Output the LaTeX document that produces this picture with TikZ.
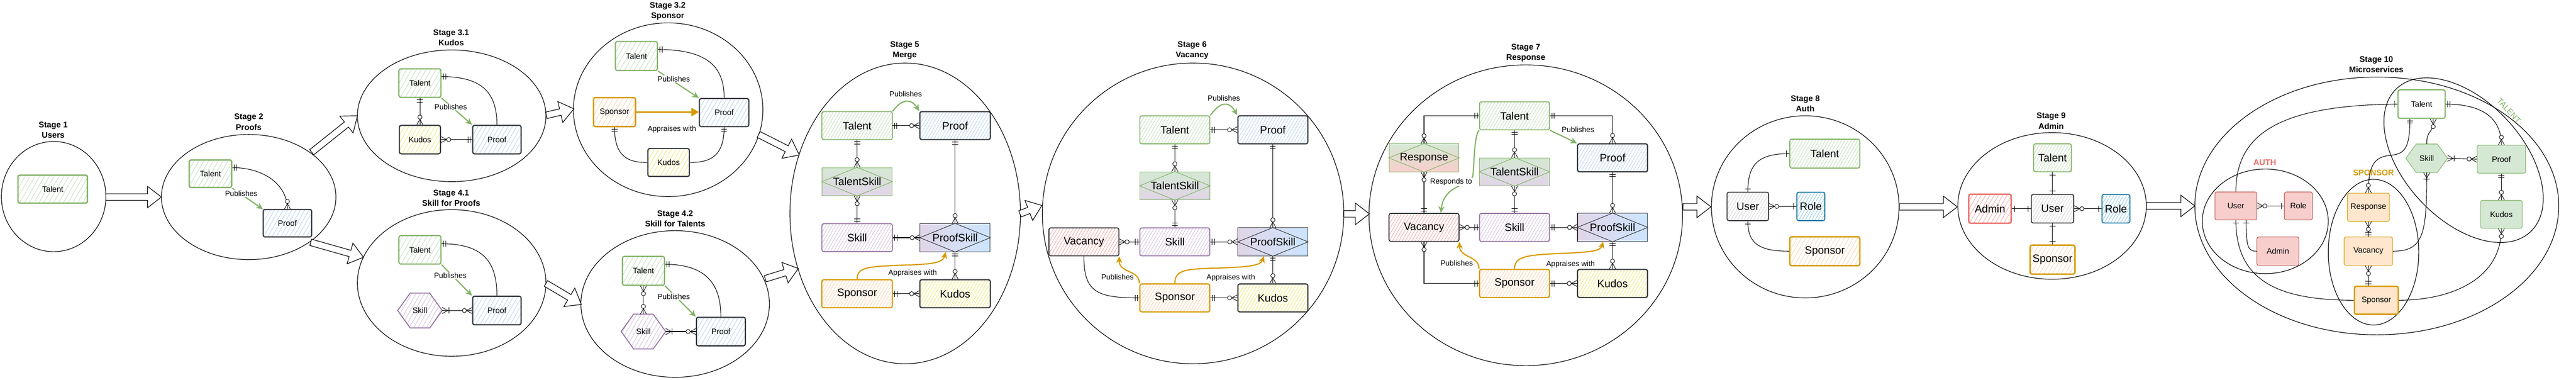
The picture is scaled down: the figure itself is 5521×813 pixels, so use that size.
\documentclass[tikz,border=0pt]{standalone}
\usepackage{fontspec}
\setmainfont{Liberation Sans}
\usetikzlibrary{calc,patterns.meta,decorations.markings,arrows.meta}
\definecolor{gS}{HTML}{82B366}
\definecolor{gF}{HTML}{D5E8D4}
\definecolor{gH}{HTML}{C2DFB8}
\definecolor{bH}{HTML}{B7D2F5}
\definecolor{dS}{HTML}{36393D}
\definecolor{yH}{HTML}{EEEA70}
\definecolor{pS}{HTML}{9673A6}
\definecolor{pF}{HTML}{E1D5E7}
\definecolor{pH}{HTML}{D2BEDC}
\definecolor{oS}{HTML}{D79B00}
\definecolor{oF}{HTML}{FFE6CC}
\definecolor{oH}{HTML}{FBD2A8}
\definecolor{rF}{HTML}{F8CECC}
\definecolor{rS}{HTML}{B85450}
\definecolor{rH}{HTML}{F0A6A4}
\definecolor{rL}{HTML}{EA6B66}
\definecolor{uH}{HTML}{D4D4D4}
\definecolor{tS}{HTML}{10739E}
\definecolor{tH}{HTML}{8CC9E6}
\definecolor{psR}{HTML}{CCE5FF}
\newcommand\fT{\fontsize{17.5}{22.5}\selectfont\bfseries}
\newcommand\fS{\fontsize{17}{20}\selectfont}
\newcommand\fL{\fontsize{23}{27}\selectfont}
\newcommand\fB{\fontsize{16}{19}\selectfont}
\newcommand\mkMO{\draw[mkline] (4pt,-6.5pt)--(4pt,6.5pt) (9pt,-6.5pt)--(9pt,6.5pt);}
\newcommand\mkONE{\draw[mkline] (6pt,-6.5pt)--(6pt,6.5pt);}
\newcommand\mkZM{\draw[mkline] (0pt,6.5pt)--(12pt,0pt)--(0pt,-6.5pt);\draw[mkline,fill=white] (16.5pt,0pt) circle (4.5pt);}
\newcommand\mkOM{\draw[mkline] (0pt,6.5pt)--(12pt,0pt)--(0pt,-6.5pt);\draw[mkline] (14pt,-6.5pt)--(14pt,6.5pt);}
\tikzset{
  mkline/.style={draw=black,line width=1pt,solid},
  mkA/.style={postaction={decorate,decoration={markings,mark=at position 0 with {#1}}}},
  mkB/.style={postaction={decorate,decoration={markings,mark=at position 1 with {\begin{scope}[xscale=-1]#1\end{scope}}}}},
  mo s/.style={mkA=\mkMO}, mo e/.style={mkB=\mkMO},
  one s/.style={mkA=\mkONE}, one e/.style={mkB=\mkONE},
  zm s/.style={mkA=\mkZM}, zm e/.style={mkB=\mkZM},
  om s/.style={mkA=\mkOM}, om e/.style={mkB=\mkOM},
  er/.style={draw=black,line width=1.2pt},
  stg/.style={draw=black,line width=1.3pt},
  ttl/.style={font=\fT,align=center,inner sep=0pt},
  lbl/.style={font=\fB,inner sep=1.5pt},
  lblw/.style={lbl,fill=white},
  sk/.style={draw,rounded corners=4pt,inner sep=0pt,align=center,font=\fS,line width=2.5pt},
  lg/.style={draw,rounded corners=4pt,inner sep=0pt,align=center,font=\fL,line width=2pt},
  so/.style={draw,rounded corners=4pt,inner sep=0pt,align=center,font=\fS,line width=1.2pt},
  wh/.style 2 args={minimum width=#1,minimum height=#2},
  hatch/.style 2 args={pattern={Lines[angle=60,distance=#2,line width=1pt]},pattern color=#1},
  cTal/.style={draw=gS,hatch={gH}{#1}}, cTal/.default=8pt,
  cPro/.style={draw=dS,hatch={bH}{#1}}, cPro/.default=8pt,
  cKud/.style={draw=dS,hatch={yH}{#1}}, cKud/.default=8pt,
  cSki/.style={draw=pS,hatch={pH}{#1}}, cSki/.default=8pt,
  cSpo/.style={draw=oS,hatch={oH}{#1}}, cSpo/.default=8pt,
  cVac/.style={draw=dS,hatch={rH}{#1}}, cVac/.default=8pt,
  cUsr/.style={draw=dS,hatch={uH}{#1}}, cUsr/.default=8pt,
  cRol/.style={draw=tS,hatch={tH}{#1}}, cRol/.default=8pt,
  cAdm/.style={draw=rL,hatch={rH}{#1}}, cAdm/.default=8pt,
  pubg/.style={draw=gS,line width=2.5pt,-{Stealth[length=14pt,width=13pt,inset=4pt]}},
  pubo/.style={draw=oS,line width=2.5pt,-{Stealth[length=14pt,width=13pt,inset=4pt]}},
  appr/.style={draw=oS,line width=3pt,-{Triangle[length=16pt,width=18pt]}},
  flex/.style={draw=black,fill=white,line width=1.3pt,line join=miter},
}
\newcommand\flexarrow[2]{%
  \coordinate (fahb) at ($(#2)!30pt!(#1)$);
  \draw[flex] ($(#1)!7pt!90:(#2)$) -- ($(fahb)!7pt!90:(#2)$) -- ($(fahb)!23pt!90:(#2)$) -- (#2) -- ($(fahb)!23pt!-90:(#2)$) -- ($(fahb)!7pt!-90:(#2)$) -- ($(#1)!7pt!-90:(#2)$) -- cycle;}
\newcommand\hexent[7]{%
  \node[minimum width=#3,minimum height=#4,inner sep=0pt] (#1) at (#2) {};
  \path[#6] (#1.west) -- ($(#1.north west)!#5!(#1.north east)$) -- ($(#1.north east)!#5!(#1.north west)$) -- (#1.east) -- ($(#1.south east)!#5!(#1.south west)$) -- ($(#1.south west)!#5!(#1.south east)$) -- cycle;
  \node[font=\fS] at (#1) {#7};}
\newcommand\assoc[5]{%
  \node[draw=#4,line width=1.2pt,#3,minimum width=150,minimum height=60,inner sep=0pt] (#1) at (#2) {};
  \draw[#4,line width=1.2pt] (#1.west)--(#1.north)--(#1.east)--(#1.south)--cycle;
  \node[font=\fL] at (#1) {#5};}
\begin{document}
\begin{tikzpicture}[x=1pt,y=-1pt]
\fill[white] (0,0) rectangle (5521,813);
\useasboundingbox (0,0) rectangle (5521,813);

% ===== Stage 1
\node[ttl] (t1) at (114,278) {Stage 1\\Users};
\draw[stg] (115,421) ellipse [x radius=112, y radius=118];
\node[sk,cTal=9pt,wh={149}{60},line width=3pt] (s1t) at (113,405) {Talent};

% ===== Stage 2
\node[ttl] (t2) at (533,261) {Stage 2\\Proofs};
\draw[stg] (533,422) ellipse [x radius=187, y radius=134];
\node[sk,cTal=9pt,wh={91}{59},line width=3pt] (s2t) at (451,372) {Talent};
\node[sk,cPro,wh={104}{59}] (s2p) at (616,478) {Proof};
\draw[er,mo s,zm e] ($(s2t.east)+(0,-13)$) .. controls (565,359) and (616,395) .. (s2p.north);
\draw[pubg] (s2t.south east) -- (s2p.north west);
\node[lblw] at (517,414) {Publishes};

% ===== Stage 3.1
\node[ttl] at (967,81) {Stage 3.1\\Kudos};
\draw[stg] (968,248) ellipse [x radius=202, y radius=141];
\node[sk,cTal=9pt,wh={90}{61}] (s31t) at (900,178) {Talent};
\node[sk,cKud,wh={88}{61}] (s31k) at (900,299) {Kudos};
\node[sk,cPro,wh={104}{61}] (s31p) at (1065,299) {Proof};
\draw[er,mo s,zm e] ($(s31t.east)+(0,-14)$) .. controls (1035,164) and (1065,200) .. (s31p.north);
\draw[er,mo s,zm e] (s31t.south) -- (s31k.north);
\draw[er,zm s,mo e] (s31k.east) -- (s31p.west);
\draw[pubg] (s31t.south east) -- (s31p.north west);
\node[lblw] at (966,229) {Publishes};

% ===== Stage 3.2
\node[ttl] at (1431,24) {Stage 3.2\\Sponsor};
\draw[stg] (1432,235) ellipse [x radius=203, y radius=186];
\node[sk,cTal=9pt,wh={90}{62}] (s32t) at (1364,120) {Talent};
\node[sk,cSpo=9pt,wh={90}{62},line width=3pt] (s32s) at (1317,240) {Sponsor};
\node[sk,cPro,wh={106}{60}] (s32p) at (1552,241) {Proof};
\node[sk,cKud,wh={89}{60}] (s32k) at (1433,348) {Kudos};
\draw[er,mo s,zm e] ($(s32t.east)+(0,-14)$) .. controls (1525,106) and (1552,150) .. (s32p.north);
\draw[appr] (s32s.east) -- (s32s.east -| s32p.west);
\node[lbl] at (1440,277) {Appraises with};
\draw[er,mo s,zm e] (s32s.south) .. controls (1317,335) and (1345,348) .. (s32k.west);
\draw[er,mo s,zm e] (s32p.south) .. controls (1552,335) and (1522,348) .. (s32k.east);
\draw[pubg] (s32t.south east) -- (s32p.north west);
\node[lblw] at (1444,169) {Publishes};

% ===== Stage 4.1
\node[ttl] at (967,424) {Stage 4.1\\Skill for Proofs};
\draw[stg] (968,606) ellipse [x radius=202, y radius=157];
\node[sk,cTal=9pt,wh={90}{61}] (s41t) at (900,535) {Talent};
\hexent{s41s}{900,665}{95}{74}{0.28}{draw=pS,line width=2pt,hatch={pH}{8pt}}{Skill}
\node[sk,cPro,wh={104}{61}] (s41p) at (1065,665) {Proof};
\draw[er,mo s,zm e] ($(s41t.east)+(0,-13)$) .. controls (1035,522) and (1065,560) .. (s41p.north);
\draw[er,om s,zm e] (s41s.east) -- (s41p.west);
\draw[pubg] (s41t.south east) -- (s41p.north west);
\node[lblw] at (965,590) {Publishes};

% ===== Stage 4.2
\node[ttl] at (1447,468) {Stage 4.2\\Skill for Talents};
\draw[stg] (1447,651) ellipse [x radius=202, y radius=157];
\node[sk,cTal=9pt,wh={90}{62}] (s42t) at (1379,580) {Talent};
\hexent{s42s}{1379,710}{95}{74}{0.28}{draw=pS,line width=2pt,hatch={pH}{8pt}}{Skill}
\node[sk,cPro,wh={105}{61}] (s42p) at (1545,710) {Proof};
\draw[er,mo s,zm e] ($(s42t.east)+(0,-14)$) .. controls (1515,566) and (1545,610) .. (s42p.north);
\draw[er,zm s,zm e] (s42t.south) -- (s42s.north);
\draw[er,om s,zm e] (s42s.east) -- (s42p.west);
\draw[pubg] (s42t.south east) -- (s42p.north west);
\node[lblw] at (1444,635) {Publishes};

% ===== Stage 5
\node[ttl] at (1939,108) {Stage 5\\Merge};
\draw[stg] (1940,457) ellipse [x radius=247, y radius=322];
\node[lg,cTal=6pt,wh={151}{60}] (s5t) at (1837,269) {Talent};
\node[lg,cPro=6pt,wh={151}{60},line width=2.5pt] (s5p) at (2047,269) {Proof};
\assoc{s5ts}{1837,389}{top color=gF,bottom color=pF}{gS}{TalentSkill}
\node[lg,cSki=6pt,wh={151}{60}] (s5sk) at (1837,509) {Skill};
\assoc{s5ps}{2047,509}{left color=pF,right color=psR}{dS}{ProofSkill}
\node[lg,cSpo=6pt,wh={151}{60},line width=2.5pt] (s5sp) at (1837,629) {Sponsor};
\node[lg,cKud=6pt,wh={151}{60},line width=2.5pt] (s5k) at (2047,629) {Kudos};
\draw[er,mo s,zm e] (s5t.east) -- (s5p.west);
\draw[er,mo s,zm e] (s5t.south) -- (s5ts.north);
\draw[er,zm s,mo e] (s5ts.south) -- (s5sk.north);
\draw[er,mo s,zm e] (s5p.south) -- (s5ps.north);
\draw[er,mo s,zm e] (s5sk.east) -- (s5ps.west);
\draw[er,mo s,zm e] (s5ps.south) -- (s5k.north);
\draw[er,mo s,zm e] (s5sp.east) -- (s5k.west);
\draw[pubg] (s5t.north east) .. controls (1932,212) and (1952,210) .. (s5p.north west);
\node[lbl] at (1941,201) {Publishes};
\draw[pubo] (s5sp.north) .. controls (1837,572) and (1860,571) .. (1930,568) .. controls (1990,566) and (2020,565) .. ($(s5ps.south)+(-20,0)$);
\node[lbl] at (1956,585) {Appraises with};

% ===== Stage 6
\node[ttl] at (2555,108) {Stage 6\\Vacancy};
\draw[stg] (2557,457) ellipse [x radius=323, y radius=322];
\node[lg,cTal=6pt,wh={150}{60}] (s6t) at (2518,278) {Talent};
\node[lg,cPro=6pt,wh={150}{60},line width=2.5pt] (s6p) at (2728,278) {Proof};
\assoc{s6ts}{2518,398}{top color=gF,bottom color=pF}{gS}{TalentSkill}
\node[lg,cVac=6pt,wh={150}{60}] (s6v) at (2323,518) {Vacancy};
\node[lg,cSki=6pt,wh={150}{60}] (s6sk) at (2518,518) {Skill};
\assoc{s6ps}{2728,518}{left color=pF,right color=psR}{dS}{ProofSkill}
\node[lg,cSpo=6pt,wh={150}{60},line width=2.5pt] (s6sp) at (2518,638) {Sponsor};
\node[lg,cKud=6pt,wh={150}{60},line width=2.5pt] (s6k) at (2728,638) {Kudos};
\draw[er,mo s,zm e] (s6t.east) -- (s6p.west);
\draw[er,mo s,zm e] (s6t.south) -- (s6ts.north);
\draw[er,zm s,mo e] (s6ts.south) -- (s6sk.north);
\draw[er,mo s,zm e] (s6p.south) -- (s6ps.north);
\draw[er,zm s,mo e] (s6v.east) -- (s6sk.west);
\draw[er,mo s,zm e] (s6sk.east) -- (s6ps.west);
\draw[er,mo s,zm e] (s6ps.south) -- (s6k.north);
\draw[er,mo s,zm e] (s6sp.east) -- (s6k.west);
\draw[er,mo s,zm e] (s6sp.west) .. controls (2350,638) and (2323,625) .. (s6v.south);
\draw[pubg] (s6t.north east) .. controls (2612,222) and (2632,212) .. (s6p.north west);
\node[lbl] at (2623,210) {Publishes};
\draw[pubo] (s6sp.north west) .. controls (2443,578) and (2398,585) .. (s6v.south east);
\node[lbl] at (2395,593) {Publishes};
\draw[pubo] (s6sp.north) .. controls (2518,578) and (2540,576) .. (2610,574) .. controls (2680,572) and (2702,568) .. ($(s6ps.south)+(-19,0)$);
\node[lbl] at (2638,595) {Appraises with};

% ===== Stage 7
\node[ttl] at (3270,113) {Stage 7\\Response};
\draw[stg] (3270,461) ellipse [x radius=336, y radius=322];
\node[lg,cTal=6pt,wh={150}{60}] (s7t) at (3246,248) {Talent};
\assoc{s7r}{3052,338}{top color=gF,bottom color=rF}{gS}{Response}
\assoc{s7ts}{3246,368}{top color=gF,bottom color=pF}{gS}{TalentSkill}
\node[lg,cPro=6pt,wh={150}{60},line width=2.5pt] (s7p) at (3456,338) {Proof};
\node[lg,cVac=6pt,wh={150}{60}] (s7v) at (3052,487) {Vacancy};
\node[lg,cSki=6pt,wh={150}{60}] (s7sk) at (3246,487) {Skill};
\assoc{s7ps}{3456,487}{left color=pF,right color=psR}{dS}{ProofSkill}
\node[lg,cSpo=6pt,wh={150}{60},line width=2.5pt] (s7sp) at (3246,607) {Sponsor};
\node[lg,cKud=6pt,wh={150}{60},line width=2.5pt] (s7k) at (3456,607) {Kudos};
\draw[er,mo s,zm e] (s7t.west) -| (s7r.north);
\draw[er,mo s,zm e] (s7t.east) -| (s7p.north);
\draw[er,mo s,zm e] (s7t.south) -- (s7ts.north);
\draw[er,zm s,mo e] (s7ts.south) -- (s7sk.north);
\draw[er,zm s,mo e] (s7r.south) -- (s7v.north);
\draw[er,zm s,mo e] (s7v.east) -- (s7sk.west);
\draw[er,mo s,zm e] (s7sk.east) -- (s7ps.west);
\draw[er,mo s,zm e] (s7p.south) -- (s7ps.north);
\draw[er,mo s,zm e] (s7ps.south) -- (s7k.north);
\draw[er,mo s,zm e] (s7sp.east) -- (s7k.west);
\draw[er,zm s,mo e] (s7v.south) |- (s7sp.west);
\draw[pubg] (s7t.south east) -- (s7p.north west);
\node[lbl] at (3382,278) {Publishes};
\draw[pubg] (s7t.south west) .. controls (3160,290) and (3160,340) .. (3157,375) .. controls (3154,400) and (3095,392) .. ($(s7v.north)+(36,0)$);
\node[lblw] at (3110,390) {Responds to};
\draw[pubo] (s7sp.north west) .. controls (3171,548) and (3128,552) .. (s7v.south east);
\node[lbl] at (3122,564) {Publishes};
\draw[pubo] (s7sp.north) .. controls (3246,550) and (3270,546) .. (3340,543) .. controls (3410,540) and (3430,538) .. ($(s7ps.south)+(-20,0)$);
\node[lbl] at (3366,566) {Appraises with};

% ===== Stage 8
\node[ttl] at (3869,222) {Stage 8\\Auth};
\draw[stg] (3869,443) ellipse [x radius=201, y radius=195];
\node[lg,cTal=6pt,wh={150}{62}] (s8t) at (3911,329) {Talent};
\node[lg,cUsr=6pt,wh={89}{61}] (s8u) at (3746,442) {User};
\node[lg,cRol=6pt,wh={60}{61}] (s8r) at (3881,442) {Role};
\node[lg,cSpo=8pt,wh={150}{62},line width=3pt] (s8s) at (3911,538) {Sponsor};
\draw[er,one s,one e] (s8u.north) .. controls (3746,352) and (3768,329) .. (s8t.west);
\draw[er,one s,one e] (s8u.south) .. controls (3746,520) and (3768,538) .. (s8s.west);
\draw[er,zm s,one e] (s8u.east) -- (s8r.west);

% ===== Stage 9
\node[ttl] at (4396,259) {Stage 9\\Admin};
\draw[stg] (4398,441) ellipse [x radius=202, y radius=157];
\node[lg,cTal=6pt,wh={81}{60}] (s9t) at (4399,338) {Talent};
\node[lg,cAdm=8pt,wh={91}{62},line width=3pt] (s9a) at (4265,447) {Admin};
\node[lg,cUsr=6pt,wh={91}{61}] (s9u) at (4399,447) {User};
\node[lg,cRol=6pt,wh={60}{61}] (s9r) at (4535,447) {Role};
\node[lg,cSpo=8pt,wh={96}{62},line width=3pt] (s9s) at (4399,556) {Sponsor};
\draw[er,one s,one e] (s9t.south) -- (s9u.north);
\draw[er,one s,one e] (s9a.east) -- (s9u.west);
\draw[er,zm s,one e] (s9u.east) -- (s9r.west);
\draw[er,one s,one e] (s9u.south) -- (s9s.north);

% ===== Stage 10
\node[ttl] at (5093,138) {Stage 10\\Microservices};
\draw[stg] (5094,441) ellipse [x radius=390, y radius=276];
\draw[stg] (4855,474) ellipse [x radius=135, y radius=112];
\draw[stg] (5087,540) ellipse [x radius=97, y radius=156];
\draw[stg,rotate around={-47:(5280,343)}] (5280,343) ellipse [x radius=210, y radius=127];
\node[font=\fT,text=rL] at (4854,348) {AUTH};
\node[font=\fT,text=oS] at (5087,370) {SPONSOR};
\node[font=\fontsize{17.5}{20}\selectfont,text=gS,rotate=-47] at (5377,237) {TALENT};
\node[so,draw=gS,fill=white,line width=2.5pt,wh={101}{61}] (x10t) at (5190,223) {Talent};
\hexent{x10sk}{5201,339}{89}{61}{0.25}{draw=gS,fill=gF,line width=1.2pt}{Skill}
\node[so,draw=gS,fill=gF,wh={104}{60}] (x10p) at (5361,341) {Proof};
\node[so,draw=gS,fill=gF,wh={89}{60}] (x10k) at (5361,459) {Kudos};
\node[so,draw=rS,fill=rF,wh={90}{60}] (x10u) at (4792,441) {User};
\node[so,draw=rS,fill=rF,wh={60}{60}] (x10ro) at (4926,441) {Role};
\node[so,draw=rS,fill=rF,wh={90}{61}] (x10a) at (4882,538) {Admin};
\node[so,draw=oS,fill=oF,wh={90}{60}] (x10re) at (5076,444) {Response};
\node[so,draw=oS,fill=oF,wh={104}{61}] (x10v) at (5076,538) {Vacancy};
\node[so,draw=oS,fill=oF,wh={94}{60},line width=3pt] (x10s) at (5093,643) {Sponsor};
\draw[er,one s,one e] (x10t.west) .. controls (4880,225) and (4792,290) .. (x10u.north);
\draw[er,mo s,zm e] (x10t.east) .. controls (5330,223) and (5361,260) .. (x10p.north);
\draw[er,mo s,zm e] ($(x10t.south)+(-25,0)$) .. controls (5165,325) and (5150,330) .. (5120,333) .. controls (5085,337) and (5076,360) .. (x10re.north);
\draw[er,zm s,zm e] ($(x10t.south)+(25,0)$) .. controls (5215,290) and (5201,275) .. (x10sk.north);
\draw[er,om s,zm e] (x10sk.east) -- (x10p.west);
\draw[er,om s,zm e] (x10sk.south) .. controls (5201,500) and (5195,538) .. (x10v.east);
\draw[er,mo s,zm e] (x10p.south) -- (x10k.north);
\draw[er,zm s,mo e] (x10k.south) .. controls (5361,600) and (5250,643) .. (x10s.east);
\draw[er,zm s,mo e] (x10re.south) -- (x10v.north);
\draw[er,zm s,mo e] (x10v.south) -- (x10v.south |- x10s.north);
\draw[er,zm s,one e] (x10u.east) -- (x10ro.west);
\draw[er,one s,one e] (x10u.south) .. controls (4792,600) and (4880,643) .. (x10s.west);
\draw[er,one s,one e] ($(x10u.south)+(22,0)$) .. controls (4814,530) and (4818,538) .. (x10a.west);

% ===== stage arrows
\coordinate (a1s) at (227,422); \coordinate (a1e) at (346,422);
\coordinate (a2s) at (668,326); \coordinate (a2e) at (766,248);
\coordinate (a3s) at (666,519); \coordinate (a3e) at (779,551);
\coordinate (a4s) at (1171,247); \coordinate (a4e) at (1230,233);
\coordinate (a5s) at (1170,607); \coordinate (a5e) at (1246,652);
\coordinate (a6s) at (1626,288); \coordinate (a6e) at (1713,332);
\coordinate (a7s) at (1640,597); \coordinate (a7e) at (1711,575);
\coordinate (a8s) at (2186,458); \coordinate (a8e) at (2233,440);
\coordinate (a9s) at (2880,458); \coordinate (a9e) at (2935,458);
\coordinate (a10s) at (3607,443); \coordinate (a10e) at (3667,443);
\coordinate (a11s) at (4071,443); \coordinate (a11e) at (4195,443);
\coordinate (a12s) at (4600,441); \coordinate (a12e) at (4704,441);
\flexarrow{a1s}{a1e}
\flexarrow{a2s}{a2e}
\flexarrow{a3s}{a3e}
\flexarrow{a4s}{a4e}
\flexarrow{a5s}{a5e}
\flexarrow{a6s}{a6e}
\flexarrow{a7s}{a7e}
\flexarrow{a8s}{a8e}
\flexarrow{a9s}{a9e}
\flexarrow{a10s}{a10e}
\flexarrow{a11s}{a11e}
\flexarrow{a12s}{a12e}
\end{tikzpicture}
\end{document}
